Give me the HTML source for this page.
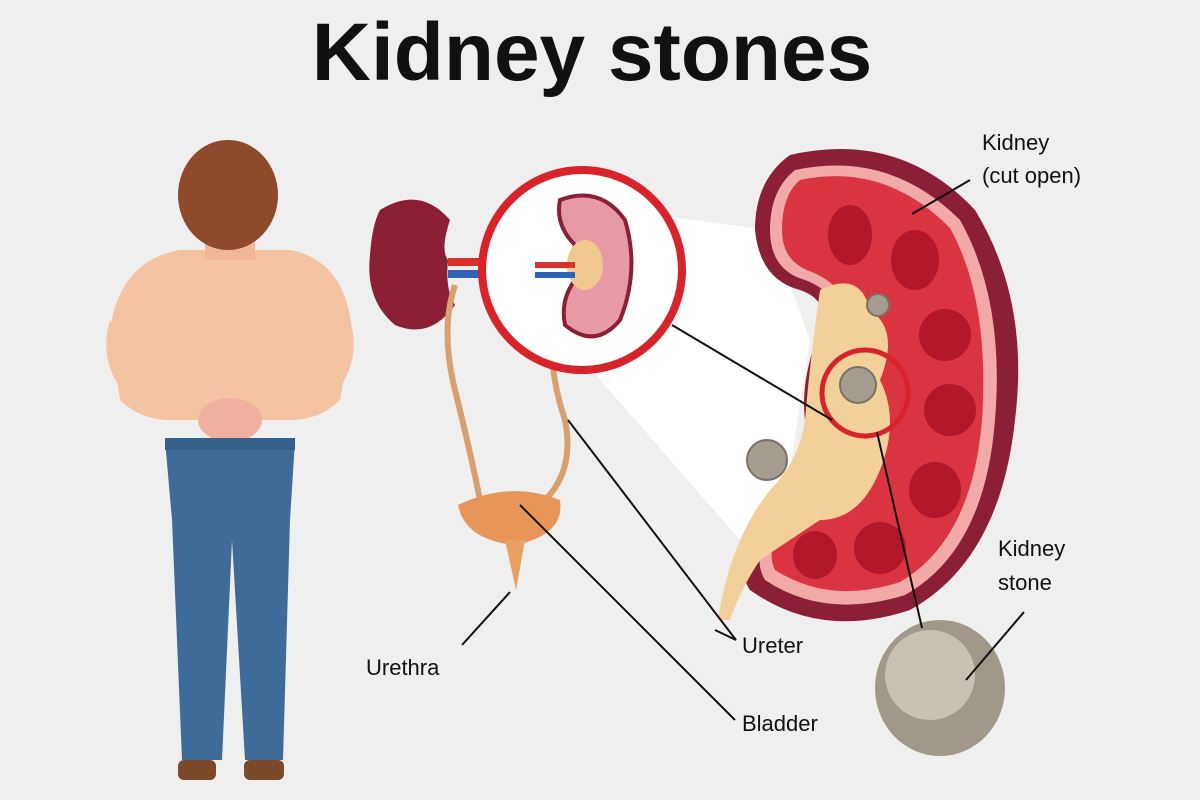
<!DOCTYPE html>
<html><head><meta charset="utf-8"><style>
html,body{margin:0;padding:0;background:#efefef;}
svg{display:block}
text{font-family:"Liberation Sans",sans-serif;}
</style></head><body>
<svg width="1200" height="800" viewBox="0 0 1200 800">
<rect width="1200" height="800" fill="#efefef"/>
<text x="592" y="80" text-anchor="middle" font-size="82" font-weight="bold" fill="#111">Kidney stones</text>

<!-- man -->
<g>
<path d="M110 330 Q120 260 180 250 L290 250 Q345 260 352 330 L340 400 Q320 420 290 420 L170 420 Q140 420 120 400 Z" fill="#f4c4a2"/>
<rect x="205" y="225" width="50" height="35" fill="#f0b896"/>
<path d="M110 320 Q95 370 140 410 L200 420 L195 395 L150 380 Z" fill="#f4c4a2"/>
<path d="M350 320 Q365 370 320 410 L265 420 L270 395 L310 380 Z" fill="#f4c4a2"/>
<ellipse cx="230" cy="420" rx="32" ry="22" fill="#f0b0a0"/>
<ellipse cx="228" cy="195" rx="50" ry="55" fill="#8e4a2a"/>
<path d="M165 440 L295 440 L290 520 L283 760 L245 760 L232 540 L222 760 L182 760 L172 520 Z" fill="#3e6b97"/>
<rect x="165" y="438" width="130" height="12" fill="#35608a"/>
<rect x="178" y="760" width="38" height="20" rx="6" fill="#7a4a2a"/>
<rect x="244" y="760" width="40" height="20" rx="6" fill="#7a4a2a"/>
</g>

<!-- white zoom wedge -->
<polygon points="655,215 770,230 810,340 790,470 740,540 590,368" fill="#ffffff"/>

<!-- small kidney -->
<path d="M380 210 Q420 185 450 220 Q440 250 448 260 Q445 290 455 305 Q430 340 395 325 Q365 300 370 255 Q372 225 380 210Z" fill="#8a1f35"/>
<rect x="448" y="258" width="40" height="8" fill="#d8322d"/>
<rect x="448" y="270" width="40" height="8" fill="#2f64b5"/>

<!-- ureters & bladder -->
<path d="M455 285 Q440 330 455 390 Q470 450 480 500" stroke="#d8a070" stroke-width="6" fill="none"/>
<path d="M555 310 Q545 360 565 420 Q575 470 545 500" stroke="#d8a070" stroke-width="6" fill="none"/>
<path d="M458 505 Q510 480 560 500 Q565 535 515 545 Q465 540 458 505Z" fill="#e8955a"/>
<path d="M505 540 L525 540 L516 590 Z" fill="#e8a060"/>

<!-- circle -->
<circle cx="582" cy="270" r="100" fill="#fff" stroke="#d8232a" stroke-width="8"/>
<path d="M560 200 Q600 185 625 220 Q640 270 620 320 Q595 350 565 325 Q560 300 575 280 Q570 260 575 245 Q555 225 560 200Z" fill="#e79aa5" stroke="#8a1f35" stroke-width="4"/>
<ellipse cx="585" cy="265" rx="18" ry="25" fill="#f0c890"/>
<rect x="535" y="262" width="40" height="6" fill="#d8322d"/>
<rect x="535" y="272" width="40" height="6" fill="#2f64b5"/>

<!-- big kidney -->
<path d="M790 155 Q900 130 975 210 Q1030 300 1015 420 Q1000 560 910 610 Q820 640 750 590 Q730 560 760 510 Q800 470 805 420 Q800 380 820 330 Q830 300 800 290 Q760 280 755 230 Q755 180 790 155Z" fill="#8a1f35"/>
<path d="M795 170 Q890 150 960 220 Q1005 300 995 420 Q985 550 905 595 Q825 620 765 580 Q750 555 775 515 Q815 470 818 420 Q815 385 835 335 Q845 295 805 280 Q770 270 770 230 Q770 190 795 170Z" fill="#f2a9a8"/>
<path d="M800 180 Q885 162 950 228 Q990 300 982 420 Q972 540 900 582 Q830 605 775 570 Q765 550 785 520 Q825 475 828 420 Q825 385 845 335 Q855 290 812 272 Q782 262 782 230 Q782 195 800 180Z" fill="#d9343f"/>
<g fill="#b3172a">
<ellipse cx="850" cy="235" rx="22" ry="30"/>
<ellipse cx="915" cy="260" rx="24" ry="30"/>
<ellipse cx="945" cy="335" rx="26" ry="26"/>
<ellipse cx="950" cy="410" rx="26" ry="26"/>
<ellipse cx="935" cy="490" rx="26" ry="28"/>
<ellipse cx="880" cy="548" rx="26" ry="26"/>
<ellipse cx="815" cy="555" rx="22" ry="24"/>
</g>
<path d="M820 290 Q860 270 870 310 Q900 330 880 380 Q900 420 880 470 Q860 520 820 520 Q790 540 760 560 Q740 590 730 620 L718 620 Q730 540 770 490 Q800 460 805 420 Q810 360 820 290Z" fill="#f3d09a"/>
<circle cx="878" cy="305" r="11" fill="#a59e90" stroke="#7a7266" stroke-width="2"/>
<circle cx="858" cy="385" r="18" fill="#a59e90" stroke="#7a7266" stroke-width="2"/>
<circle cx="767" cy="460" r="20" fill="#a59e90" stroke="#7a7266" stroke-width="2"/>
<circle cx="865" cy="393" r="43" fill="none" stroke="#d8232a" stroke-width="5"/>

<!-- big stone -->
<ellipse cx="940" cy="688" rx="65" ry="68" fill="#a09888"/>
<ellipse cx="930" cy="675" rx="45" ry="45" fill="#c9c2b4"/>

<!-- lines -->
<g stroke="#111" stroke-width="2" fill="none">
<line x1="970" y1="180" x2="912" y2="214"/>
<line x1="672" y1="325" x2="832" y2="420"/>
<line x1="877" y1="432" x2="922" y2="628"/>
<line x1="1024" y1="612" x2="966" y2="680"/>
<line x1="568" y1="420" x2="736" y2="640"/>
<line x1="520" y1="505" x2="735" y2="720"/>
<line x1="510" y1="592" x2="462" y2="645"/>
<line x1="715" y1="630" x2="736" y2="640"/>
</g>

<text x="982" y="150" font-size="22" fill="#111">Kidney</text>
<text x="982" y="183" font-size="22" fill="#111">(cut open)</text>
<text x="998" y="556" font-size="22" fill="#111">Kidney</text>
<text x="998" y="590" font-size="22" fill="#111">stone</text>
<text x="742" y="653" font-size="22" fill="#111">Ureter</text>
<text x="742" y="731" font-size="22" fill="#111">Bladder</text>
<text x="366" y="675" font-size="22" fill="#111">Urethra</text>
</svg>
</body></html>
